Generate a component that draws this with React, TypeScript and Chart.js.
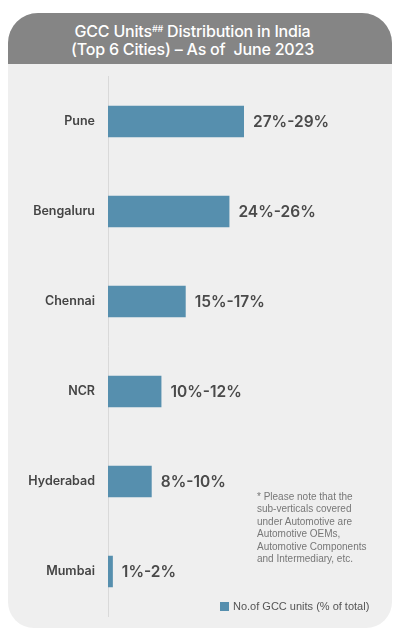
import React, { useEffect, useRef } from "react";
import { Chart, registerables } from "chart.js";

Chart.register(...registerables);

const cities = ["Pune", "Bengaluru", "Chennai", "NCR", "Hyderabad", "Mumbai"];
const shareValues = [28, 25, 16, 11, 9, 1];
const shareLabels = ["27%-29%", "24%-26%", "15%-17%", "10%-12%", "8%-10%", "1%-2%"];
const seriesName = "No.of GCC units (% of total)";
const titleLine1 = "GCC Units";
const titleSup = "##";
const titleLine1Rest = " Distribution in India";
const titleLine2 = "(Top 6 Cities) \u2013 As of  June 2023";
const footnoteLines = [
  "* Please note that the",
  "sub-verticals covered",
  "under Automotive are",
  "Automotive OEMs,",
  "Automotive Components",
  "and Intermediary, etc.",
];

const BAR_COLOR = "#568fae";
const FONT = "Inter, 'Noto Sans', sans-serif";
const SMALL_FONT = "'Liberation Sans', Arial, sans-serif";

const valueLabelPlugin = {
  id: "valueLabels",
  afterDatasetsDraw(chart: any) {
    const ctx = chart.ctx;
    const meta = chart.getDatasetMeta(0);
    ctx.save();
    ctx.font = `600 15.5px ${FONT}`;
    ctx.fillStyle = "#4a4a4a";
    ctx.textAlign = "left";
    ctx.textBaseline = "middle";
    meta.data.forEach((bar: any, i: number) => {
      ctx.fillText(shareLabels[i], bar.x + 9, bar.y + 1);
    });
    ctx.restore();
  },
};

const legendPlugin = {
  id: "customLegend",
  afterDraw(chart: any) {
    const ctx = chart.ctx;
    const x = 220;
    const y = 602;
    ctx.save();
    ctx.fillStyle = BAR_COLOR;
    ctx.fillRect(x, y, 9, 9);
    ctx.font = `400 11px ${SMALL_FONT}`;
    ctx.fillStyle = "#555555";
    ctx.textAlign = "left";
    ctx.textBaseline = "middle";
    ctx.fillText(chart.data.datasets[0].label, x + 13, y + 5);
    ctx.restore();
  },
};

export default function App() {
  const canvasRef = useRef<HTMLCanvasElement | null>(null);

  useEffect(() => {
    if (!canvasRef.current) return;
    const chart = new Chart(canvasRef.current, {
      type: "bar",
      data: {
        labels: cities,
        datasets: [
          {
            label: seriesName,
            data: shareValues,
            backgroundColor: BAR_COLOR,
            barPercentage: 0.35,
            categoryPercentage: 1,
          },
        ],
      },
      options: {
        indexAxis: "y",
        animation: false,
        responsive: false,
        maintainAspectRatio: false,
        layout: { padding: { left: 0, top: 76.5, bottom: 15.5, right: 17 } },
        plugins: {
          legend: { display: false },
          tooltip: { enabled: false },
          title: { display: false },
        },
        scales: {
          x: { display: false, min: 0, max: 56 },
          y: {
            afterFit(scale: any) {
              scale.width = 108;
            },
            grid: { display: false, drawTicks: false },
            border: { display: true, color: "#d9d9d9", width: 1 },
            ticks: {
              padding: 13,
              color: "#444444",
              font: { family: FONT, size: 12.5, weight: "600" as any },
            },
          },
        },
      },
      plugins: [valueLabelPlugin, legendPlugin],
    });
    return () => chart.destroy();
  }, []);

  return (
    <div
      style={{
        position: "absolute",
        left: 0,
        top: 0,
        width: 397,
        height: 637,
        background: "#ffffff",
        overflow: "hidden",
        fontFamily: FONT,
      }}
    >
      <div
        style={{
          position: "absolute",
          left: 8,
          top: 13,
          width: 384,
          height: 615,
          background: "#efefef",
          borderTopLeftRadius: 30,
          borderTopRightRadius: 30,
          borderBottomLeftRadius: 26,
          borderBottomRightRadius: 26,
          overflow: "hidden",
        }}
      >
        <div
          style={{
            position: "absolute",
            left: 0,
            top: 0,
            width: 384,
            height: 51,
            background: "#858585",
          }}
        />
        <div
          style={{
            position: "absolute",
            left: 0,
            top: 9,
            width: 369,
            textAlign: "center",
            color: "#ffffff",
            fontSize: 16,
            fontWeight: 500,
            lineHeight: "18px",
            letterSpacing: -0.2,
            whiteSpace: "pre",
          }}
        >
          <div>
            {titleLine1}
            <sup style={{ fontSize: 9, lineHeight: 0, verticalAlign: 5 }}>{titleSup}</sup>
            {titleLine1Rest}
          </div>
          <div>{titleLine2}</div>
        </div>
      </div>
      <canvas
        ref={canvasRef}
        width={397}
        height={637}
        style={{ position: "absolute", left: 0, top: 0, width: 397, height: 637 }}
      />
      <div
        style={{
          position: "absolute",
          left: 257,
          top: 491,
          fontSize: 10,
          fontFamily: SMALL_FONT,
          lineHeight: "12.4px",
          color: "#777777",
          whiteSpace: "pre",
        }}
      >
        {footnoteLines.map((l, i) => (
          <div key={i}>{l}</div>
        ))}
      </div>
    </div>
  );
}
